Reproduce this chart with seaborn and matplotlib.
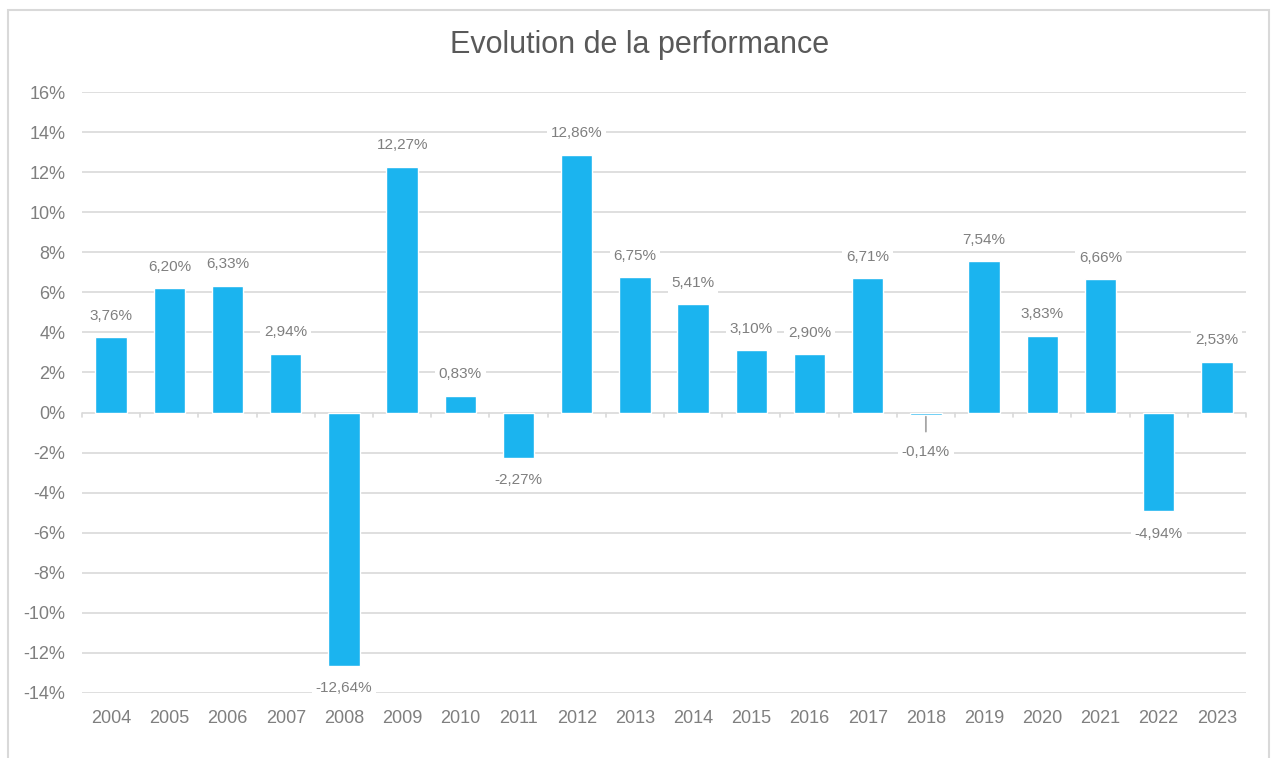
import matplotlib
matplotlib.use('Agg')
import matplotlib.pyplot as plt
import seaborn as sns
import pandas as pd
from matplotlib.patches import Rectangle

# data
years = ['2004', '2005', '2006', '2007', '2008', '2009', '2010', '2011', '2012', '2013',
         '2014', '2015', '2016', '2017', '2018', '2019', '2020', '2021', '2022', '2023']
perf = [3.76, 6.20, 6.33, 2.94, -12.64, 12.27, 0.83, -2.27, 12.86, 6.75,
        5.41, 3.10, 2.90, 6.71, -0.14, 7.54, 3.83, 6.66, -4.94, 2.53]
yticks = list(range(-14, 17, 2))

df = pd.DataFrame({'year': years, 'perf': perf})

sns.set_style('white')
plt.rcParams['font.family'] = ['Liberation Sans', 'DejaVu Sans']
plt.rcParams['axes.unicode_minus'] = False

grey = '#7f7f7f'
gridc = '#d9d9d9'
blue = '#1bb4ef'

fig = plt.figure(figsize=(12.74, 7.58), dpi=100)
ax = fig.add_axes([0.0644, 0.0858, 0.9136, 0.7928])

sns.barplot(data=df, x='year', y='perf', color=blue, width=0.54, saturation=1, ax=ax, zorder=3)

ax.set_ylim(-14, 16)
ax.set_xlim(-0.5, len(years) - 0.5)
ax.set_yticks(yticks)
ax.set_yticklabels([f'{t}%' for t in yticks])
for t in yticks:
    ax.axhline(t, color=gridc, lw=1.2, zorder=1)

# small tick marks on the zero line between categories
for i in range(len(years) + 1):
    ax.plot([i - 0.5, i - 0.5], [0, -0.23], color=gridc, lw=1.2, zorder=2, clip_on=False)

ax.tick_params(axis='both', length=0, labelsize=13, labelcolor=grey)
ax.tick_params(axis='y', pad=12)
ax.tick_params(axis='x', pad=12)
ax.set_xlabel('')
ax.set_ylabel('')
for s in ax.spines.values():
    s.set_visible(False)

# data labels
lbl = dict(ha='center', va='center', fontsize=11, color=grey, zorder=5, textcoords='offset points',
           bbox=dict(boxstyle='square,pad=0.25', fc='white', ec='none'))
for i, v in enumerate(perf):
    txt = f'{v:.2f}'.replace('.', ',') + '%'
    if v >= 0:
        ax.annotate(txt, (i, v), xytext=(0, 15.5), **lbl)
    elif v > -0.5:
        # small bar: label pushed down with leader line
        ax.annotate(txt, (i, v), xytext=(0, -26.5), **lbl,
                    arrowprops=dict(arrowstyle='-', color='#a6a6a6', lw=1.3, shrinkA=7, shrinkB=1))
    else:
        ax.annotate(txt, (i, v), xytext=(0, -16), **lbl)

fig.text(0.502, 0.941, 'Evolution de la performance', ha='center', va='center', fontsize=22, color='#595959')

# chart border
fig.patches.append(Rectangle((8 / 1274, -0.05), 1261 / 1274, 1.05 - 10 / 758, transform=fig.transFigure,
                             fill=False, ec=gridc, lw=1.5))

plt.savefig('out.png', dpi=100)
